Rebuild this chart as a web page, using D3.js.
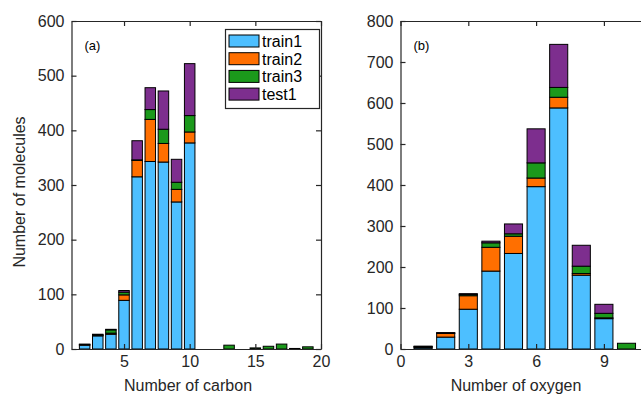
<!DOCTYPE html>
<html>
<head>
<meta charset="utf-8">
<script src="https://cdn.jsdelivr.net/npm/d3@7"></script>
<style>
  body { margin: 0; background: #fff; }
  svg { display: block; font-family: "Liberation Sans", Arial, sans-serif; }
</style>
</head>
<body>
<svg id="chart" width="641" height="397"></svg>
<script>
// series names and colours
const seriesNames = ["train1", "train2", "train3", "test1"];
const seriesColors = ["#4dbfff", "#ff6f00", "#1b991b", "#7d2e8e"];

// (a) number of carbon atoms
const carbonCounts = [2, 3, 4, 5, 6, 7, 8, 9, 10, 13, 15, 16, 17, 18, 19];
const carbonTrain1 = [7, 24, 27, 89, 315, 343, 342, 269, 377, 0, 0, 0, 0, 1, 0];
const carbonTrain2 = [1, 1, 2, 10, 30, 77, 34, 23, 20, 0, 0, 0, 0, 0, 0];
const carbonTrain3 = [0, 1, 6, 5, 1, 18, 26, 13, 30, 7, 2, 5, 9, 0, 4];
const carbonTest1 = [1, 1, 1, 3, 35, 40, 70, 42, 95, 0, 0, 0, 0, 0, 0];
const carbonXTicks = [5, 10, 15, 20];
const carbonYTicks = [0, 100, 200, 300, 400, 500, 600];

// (b) number of oxygen atoms
const oxygenCounts = [1, 2, 3, 4, 5, 6, 7, 8, 9, 10];
const oxygenTrain1 = [3, 29, 97, 190, 233, 396, 588, 180, 74, 0];
const oxygenTrain2 = [2, 9, 33, 58, 42, 21, 26, 4, 2, 0];
const oxygenTrain3 = [1, 1, 3, 11, 6, 37, 24, 18, 11, 14];
const oxygenTest1 = [1, 1, 2, 4, 24, 83, 105, 51, 22, 0];
const oxygenXTicks = [0, 3, 6, 9];
const oxygenYTicks = [0, 100, 200, 300, 400, 500, 600, 700, 800];

const svg = d3.select("#chart");
const axisColor = "#262626";

function toRows(xs, series) {
    return xs.map((x, i) => {
        const row = { x: x };
        seriesNames.forEach((name, j) => { row[name] = series[j][i]; });
        return row;
    });
}

function drawPanel(opts) {
    const g = svg.append("g");
    const x = d3.scaleLinear().domain(opts.xDomain).range([opts.left, opts.right]);
    const y = d3.scaleLinear().domain(opts.yDomain).range([opts.bottom, opts.top]);
    const barW = x(0.8) - x(0);

    const rows = toRows(opts.xs, opts.series);
    const stacked = d3.stack().keys(seriesNames)(rows);

    g.selectAll("g.layer")
        .data(stacked)
        .join("g")
        .attr("class", "layer")
        .attr("fill", (d, i) => seriesColors[i])
        .selectAll("rect")
        .data(d => d.filter(s => s[1] - s[0] > 0))
        .join("rect")
        .attr("x", d => x(d.data.x) - barW / 2)
        .attr("y", d => y(d[1]))
        .attr("width", barW)
        .attr("height", d => y(d[0]) - y(d[1]))
        .attr("stroke", "#000")
        .attr("stroke-width", 1);

    const tick = 5;
    const yAxis = g.append("g")
        .attr("transform", `translate(${opts.left},0)`)
        .call(d3.axisLeft(y).tickValues(opts.yTicks).tickSize(-tick).tickSizeOuter(0).tickPadding(7));
    const xAxis = g.append("g")
        .attr("transform", `translate(0,${opts.bottom})`)
        .call(d3.axisBottom(x).tickValues(opts.xTicks).tickSize(-tick).tickSizeOuter(0).tickPadding(7));
    const xTop = g.append("g")
        .attr("transform", `translate(0,${opts.top})`)
        .call(d3.axisTop(x).tickValues(opts.xTicks).tickSize(-tick).tickSizeOuter(0).tickFormat(""));
    const yRight = g.append("g")
        .attr("transform", `translate(${opts.right},0)`)
        .call(d3.axisRight(y).tickValues(opts.yTicks).tickSize(-tick).tickSizeOuter(0).tickFormat(""));

    [yAxis, xAxis, xTop, yRight].forEach(a => {
        a.select(".domain").attr("stroke", axisColor).attr("stroke-width", 1.2);
        a.selectAll(".tick line").attr("stroke", axisColor).attr("stroke-width", 1.2);
        a.selectAll(".tick text").attr("fill", axisColor).attr("font-size", 16)
            .attr("font-family", "Liberation Sans, Arial, sans-serif");
    });

    g.append("text")
        .attr("x", opts.left + 13)
        .attr("y", opts.top + 29)
        .attr("font-size", 13)
        .attr("fill", "#000")
        .text(opts.panel);

    g.append("text")
        .attr("x", opts.xLabelX)
        .attr("y", 391)
        .attr("text-anchor", "middle")
        .attr("font-size", 16)
        .attr("fill", axisColor)
        .text(opts.xLabel);

    return g;
}

drawPanel({
    left: 71.5, right: 321, top: 21, bottom: 349,
    xDomain: [1, 20], yDomain: [0, 600],
    xs: carbonCounts,
    series: [carbonTrain1, carbonTrain2, carbonTrain3, carbonTest1],
    xTicks: carbonXTicks, yTicks: carbonYTicks,
    panel: "(a)", xLabel: "Number of carbon", xLabelX: 188
});

drawPanel({
    left: 400.5, right: 649.1, top: 21, bottom: 349,
    xDomain: [0, 11], yDomain: [0, 800],
    xs: oxygenCounts,
    series: [oxygenTrain1, oxygenTrain2, oxygenTrain3, oxygenTest1],
    xTicks: oxygenXTicks, yTicks: oxygenYTicks,
    panel: "(b)", xLabel: "Number of oxygen", xLabelX: 516
});

// y label
svg.append("text")
    .attr("transform", "translate(25,192) rotate(-90)")
    .attr("text-anchor", "middle")
    .attr("font-size", 16)
    .attr("fill", axisColor)
    .text("Number of molecules");

// legend
const legend = svg.append("g");
legend.append("rect")
    .attr("x", 225.5).attr("y", 29.5)
    .attr("width", 94).attr("height", 79)
    .attr("fill", "#fff")
    .attr("stroke", axisColor)
    .attr("stroke-width", 1.2);
const rowsL = legend.selectAll("g.item")
    .data(seriesNames)
    .join("g")
    .attr("class", "item")
    .attr("transform", (d, i) => `translate(229,${41 + i * 17.7})`);
rowsL.append("rect")
    .attr("x", 0).attr("y", -6)
    .attr("width", 30).attr("height", 12)
    .attr("fill", (d, i) => seriesColors[i])
    .attr("stroke", "#000");
rowsL.append("text")
    .attr("x", 33).attr("y", 6)
    .attr("font-size", 16)
    .attr("fill", "#000")
    .text(d => d);
</script>
</body>
</html>
